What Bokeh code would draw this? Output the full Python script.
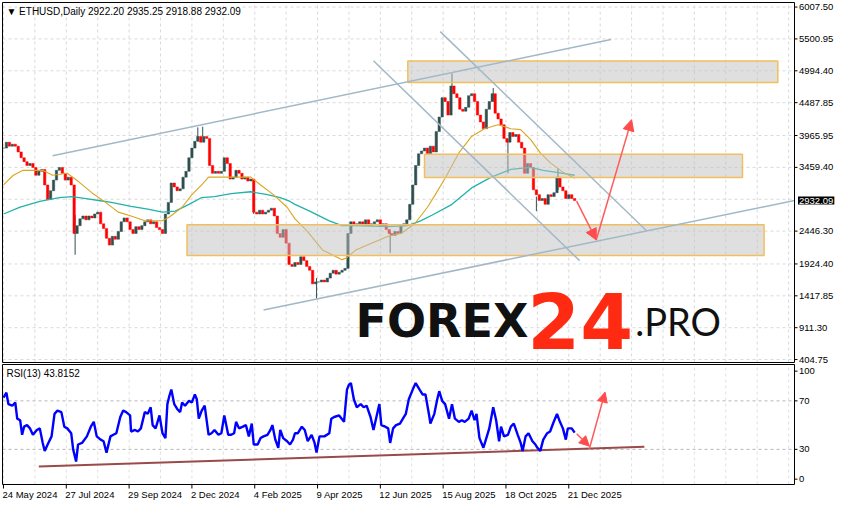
from bokeh.plotting import figure
from bokeh.models import Label, Arrow, NormalHead, Range1d
from bokeh.core.properties import value
from bokeh.embed import file_html
from bokeh.resources import INLINE

# ---------------- data ----------------
# daily closes sampled every 3 days, day 0 = 24 May 2024
closes = [3766, 3859, 3797, 3828, 3797, 3705, 3612, 3550, 3489, 3520,
          3458, 3334, 3396, 3427, 3180, 2949, 3088, 3257, 3412, 3458,
          3365, 3257, 3304, 3180, 2409, 2533, 2641, 2687, 2625, 2687,
          2656, 2718, 2748, 2563, 2486, 2332, 2224, 2363, 2317, 2440,
          2594, 2656, 2594, 2471, 2409, 2517, 2471, 2533, 2594, 2625,
          2563, 2594, 2502, 2471, 2409, 2718, 2903, 3211, 3149, 3088,
          3118, 3304, 3396, 3612, 3766, 3874, 3951, 3859, 3951, 3920,
          3489, 3365, 3396, 3365, 3396, 3612, 3520, 3273, 3304, 3412,
          3365, 3273, 3304, 3242, 3273, 2748, 2718, 2779, 2718, 2748,
          2779, 2810, 2687, 2409, 2347, 2471, 2255, 1916, 1885, 1947,
          1916, 2039, 1977, 1885, 1824, 1608, 1638, 1638, 1669, 1638,
          1700, 1777, 1824, 1762, 1793, 1824, 1854, 2409, 2594, 2533,
          2563, 2594, 2533, 2625, 2533, 2563, 2594, 2625, 2533, 2563,
          2471, 2409, 2378, 2440, 2409, 2533, 2563, 2625, 2872, 3180,
          3489, 3675, 3720, 3766, 3675, 3797, 3705, 4028, 4260, 4568,
          4506, 4290, 4753, 4630, 4568, 4383, 4352, 4414, 4599, 4630,
          4506, 4290, 4182, 4074, 4383, 4506, 4630, 4321, 4229, 4136,
          3920, 3859, 4013, 3951, 3982, 3859, 3766, 3365, 3520, 3458,
          3103, 3026, 2933, 2964, 2872, 3026, 2995, 3057, 3304, 3149,
          3088, 2964, 3026, 2964, 2932]
bar_step = 3

spike_day = [45, 73, 198, 203, 255, 319, 394, 457, 499, 514, 543, 565]
spike_lo = [2949, 2070, 3874, 3951, 2718, 1376, 2101, 4630, 4506, 3365, 2764, 3100]
spike_hi = [3180, 2700, 4095, 4105, 3273, 1700, 2440, 4953, 4722, 3900, 2995, 3442]

ma_fast_day = [0, 10, 20, 40, 50, 65, 77, 90, 104, 117, 130, 144, 162, 169, 182, 192,
               202, 209, 229, 252, 262, 275, 289, 297, 309, 325, 345, 350, 359, 375,
               392, 405, 419, 432, 440, 450, 464, 477, 490, 504, 517, 527, 537, 547,
               557, 570, 582]
ma_fast = [3180, 3334, 3412, 3412, 3334, 3365, 3226, 3057, 2903, 2748, 2687, 2610,
           2610, 2671, 2826, 3026, 3180, 3304, 3304, 3304, 3180, 3026, 2826, 2641,
           2455, 2147, 1993, 2024, 2147, 2255, 2363, 2409, 2563, 2826, 3026, 3288,
           3689, 3951, 4074, 4136, 4074, 4059, 3905, 3689, 3535, 3384, 3288]

ma_slow_day = [0, 17, 37, 57, 70, 84, 97, 110, 130, 147, 162, 175, 189, 202, 215, 232,
               252, 269, 282, 292, 297, 312, 332, 345, 359, 392, 412, 425, 437, 457,
               477, 497, 517, 537, 550, 564, 582]
ma_slow = [2718, 2826, 2918, 2980, 2995, 2964, 2933, 2903, 2841, 2795, 2748, 2764,
           2872, 2980, 2995, 3041, 3072, 3026, 2980, 2918, 2872, 2764, 2610, 2532,
           2532, 2517, 2532, 2610, 2702, 2872, 3133, 3304, 3427, 3458, 3412, 3381, 3334]

rsi_day = [0, 3, 5, 9, 12, 14, 17, 19, 21, 24, 27, 30, 34, 37, 40, 42, 45, 49, 52, 55,
           59, 62, 65, 69, 71, 74, 76, 80, 85, 89, 92, 95, 99, 102, 105, 109, 112, 115,
           119, 122, 125, 129, 130, 134, 137, 140, 144, 147, 150, 152, 155, 159, 162,
           165, 167, 169, 171, 174, 177, 180, 182, 185, 189, 192, 195, 197, 199, 202,
           205, 209, 212, 215, 219, 222, 225, 229, 232, 235, 237, 240, 244, 247, 250,
           253, 255, 259, 262, 265, 269, 272, 274, 277, 280, 282, 285, 289, 292, 295,
           297, 300, 304, 307, 310, 314, 317, 319, 322, 327, 332, 334, 337, 342, 347,
           350, 352, 354, 357, 360, 364, 367, 370, 374, 377, 380, 383, 385, 389, 392,
           394, 397, 400, 404, 407, 410, 413, 417, 420, 424, 427, 430, 434, 435, 439,
           442, 444, 447, 450, 454, 457, 460, 464, 467, 470, 474, 477, 480, 482, 485,
           489, 492, 495, 499, 502, 505, 507, 510, 514, 517, 520, 524, 527, 529, 532,
           535, 539, 542, 544, 547, 550, 554, 557, 560, 564, 567, 570, 573, 575, 579, 582]
rsi_val = [72.7, 76.7, 67.3, 66.0, 68.7, 55.3, 54.0, 42.0, 48.7, 50.0, 47.3, 42.0, 46.0,
           47.3, 35.3, 28.7, 34.0, 40.7, 59.3, 62.0, 60.7, 48.7, 47.3, 43.3, 30.0, 19.9,
           34.0, 35.3, 40.7, 48.7, 52.7, 40.7, 38.0, 36.7, 27.3, 40.7, 42.0, 43.3, 56.7,
           62.0, 60.7, 58.0, 44.7, 46.0, 44.7, 47.3, 60.7, 59.3, 64.7, 50.0, 47.3, 58.0,
           43.3, 39.3, 67.3, 74.0, 79.3, 67.3, 63.3, 60.7, 68.7, 66.0, 70.0, 68.7, 75.3,
           71.3, 55.3, 62.0, 66.0, 42.0, 43.3, 46.0, 42.0, 43.3, 58.0, 42.0, 42.0, 43.3,
           52.7, 47.3, 48.7, 50.0, 40.7, 51.3, 34.0, 34.0, 39.3, 40.7, 42.0, 46.0, 50.0,
           38.0, 31.3, 46.0, 39.3, 36.7, 34.0, 38.0, 43.3, 43.3, 48.7, 46.0, 36.7, 42.0,
           35.3, 27.3, 40.7, 40.7, 43.3, 55.3, 56.7, 58.0, 52.7, 79.3, 83.3, 84.7, 71.3,
           64.7, 67.3, 64.7, 66.0, 56.7, 46.0, 56.7, 67.3, 50.0, 48.7, 47.3, 35.3, 47.3,
           50.0, 51.3, 55.3, 59.3, 71.3, 79.3, 84.7, 79.3, 75.3, 75.3, 56.7, 51.3, 59.3,
           71.3, 78.0, 70.0, 67.3, 55.3, 67.3, 55.3, 52.7, 54.0, 52.7, 55.3, 62.0, 54.0,
           59.3, 39.3, 31.3, 39.3, 47.3, 64.7, 54.0, 36.7, 48.7, 40.7, 42.0, 48.7, 51.3,
           42.0, 35.3, 28.7, 40.7, 43.3, 36.7, 34.0, 31.3, 28.7, 38.0, 43.3, 44.7, 51.3,
           59.3, 52.7, 47.3, 38.0, 47.3, 47.3, 43.8]

price_ticks = [404.75, 911.30, 1417.85, 1924.40, 2446.30, 3459.40, 3965.95,
               4487.85, 4994.40, 5500.95, 6007.50]
price_grid = [404.75, 911.30, 1417.85, 1924.40, 2446.30, 2952.85, 3459.40, 3965.95,
              4487.85, 4994.40, 5500.95, 6007.50]
rsi_tick_pos = [94.5, 70, 30, 5.4]
rsi_tick_lab = ["100", "70", "30", "0"]
rsi_levels = [30, 70]
date_ticks = [0, 64, 128, 192, 256, 320, 384, 448, 512, 576]
date_labels = ["24 May 2024", "27 Jul 2024", "29 Sep 2024", "2 Dec 2024", "4 Feb 2025",
               "9 Apr 2025", "12 Jun 2025", "15 Aug 2025", "18 Oct 2025", "21 Dec 2025"]
grid_days = list(range(0, 806, 32))

# zones (day from, day to, price low, price high)
zone_left = [412, 429, 187]
zone_right = [789, 753, 775]
zone_bottom = [4810, 3299, 2059]
zone_top = [5149, 3669, 2548]

# trend lines (day, price)
tl_x0 = [50, 265, 377, 445]
tl_y0 = [3643, 1194, 5154, 5617]
tl_x1 = [619, 806, 587, 655]
tl_y1 = [5493, 2933, 1977, 2455]

# forecast arrows (day, price)
arr_x0 = [584, 604]
arr_y0 = [2923, 2306]
arr_x1 = [604, 640]
arr_y1 = [2306, 4218]

rsi_arr_x0 = [584, 597]
rsi_arr_y0 = [42.8, 30.5]
rsi_arr_x1 = [597, 613]
rsi_arr_y1 = [32.6, 77.2]
rsi_tl_x = [36, 653]
rsi_tl_y = [15.8, 32.1]

last_price = 2932.09

# panel extents (days / price / rsi)
DAY0, DAY1 = -1, 806
P0, P1 = 358, 6080
R0, R1 = 1, 100

FONT = "Liberation Sans"
AXFS = "9.5px"

# ---------------- one canvas, two panels ----------------
W, H = 839, 505
# main panel: px rows 2..362 ; rsi panel: rows 364..484 ; panel columns 2..794
ppx = (P1 - P0) / 360.0           # price per pixel
rpx = (R1 - R0) / 120.0           # rsi per pixel
dpx = (DAY1 - DAY0) / 792.0       # days per pixel

p = figure(width=W, height=H,
           x_range=Range1d(DAY0 - 2 * dpx, DAY0 + (W - 2) * dpx),
           y_range=Range1d(P0 - (H - 362) * ppx, P1 + 2 * ppx),
           toolbar_location=None, output_backend="svg",
           min_border=0, x_axis_location=None, y_axis_location=None,
           background_fill_color="white", border_fill_color="white",
           outline_line_color=None)
p.extra_y_ranges = {"rsi": Range1d(R0 - (H - 484) * rpx, R1 + 364 * rpx)}
p.grid.visible = False

GRID = "#d9d9d9"
# main grid
p.segment(x0=[DAY0] * len(price_grid), y0=price_grid, x1=[DAY1] * len(price_grid), y1=price_grid,
          line_color=GRID, line_dash="3 3", line_width=1)
p.segment(x0=grid_days, y0=[P0] * len(grid_days), x1=grid_days, y1=[P1] * len(grid_days),
          line_color=GRID, line_dash="3 3", line_width=1)
# rsi grid
p.segment(x0=grid_days, y0=[R0] * len(grid_days), x1=grid_days, y1=[R1] * len(grid_days),
          line_color="#e0e0e0", line_dash="3 3", line_width=1, y_range_name="rsi")
p.segment(x0=[DAY0] * 2, y0=rsi_levels, x1=[DAY1] * 2, y1=rsi_levels,
          line_color="#b8b8b8", line_dash="3 3", line_width=1, y_range_name="rsi")

# candles
days = [bar_step * i for i in range(len(closes))]
opens = [closes[0]] + closes[:-1]
tops = [max(o, c) for o, c in zip(opens, closes)]
bots = [min(o, c) for o, c in zip(opens, closes)]
cols = ["#2F4F4F" if c >= o else "#FF0000" for o, c in zip(opens, closes)]
p.segment(x0=spike_day, y0=spike_lo, x1=spike_day, y1=spike_hi, line_color="#2F4F4F", line_width=1)
p.vbar(x=days, width=2.4, top=tops, bottom=bots, fill_color=cols, line_color=cols, line_width=0.5)

# moving averages
p.line(ma_slow_day, ma_slow, line_color="#20B2AA", line_width=1.3)
p.line(ma_fast_day, ma_fast, line_color="#DAA520", line_width=1.1)

# zones
p.quad(left=zone_left, right=zone_right, bottom=zone_bottom, top=zone_top,
       fill_color="#c0c0c0", fill_alpha=0.5, line_color="#F2BE5E", line_width=1.5)

# trend lines
p.segment(x0=tl_x0, y0=tl_y0, x1=tl_x1, y1=tl_y1, line_color="#A3B8C6", line_width=1.5)

# arrows
for xs, ys, xe, ye in zip(arr_x0, arr_y0, arr_x1, arr_y1):
    p.add_layout(Arrow(end=NormalHead(size=11, fill_color="#FF4B4B", line_color="#FF4B4B"),
                       x_start=xs, y_start=ys, x_end=xe, y_end=ye,
                       line_color="#FF5A5A", line_width=1.5))

# watermark
p.add_layout(Label(x=358.7, y=1022, text="FOREX", text_font="DejaVu Sans",
                   text_font_style="bold", text_font_size="46px", text_color="#111111",
                   text_baseline="alphabetic", text_align="left"))
p.add_layout(Label(x=533.7, y=1022, text="24", text_font="DejaVu Sans",
                   text_font_style="bold", text_font_size="76px", text_color="#FE2B12",
                   text_baseline="alphabetic", text_align="left"))
p.add_layout(Label(x=643.7, y=1022, text=".PRO", text_font="Lato",
                   text_font_size="38px", text_color="#111111",
                   text_baseline="alphabetic", text_align="left"))

# RSI panel content
p.line(rsi_tl_x, rsi_tl_y, line_color="#9A4A4A", line_width=2, y_range_name="rsi")
p.line(rsi_day, rsi_val, line_color="#0000FF", line_width=2.4, y_range_name="rsi")
for xs, ys, xe, ye in zip(rsi_arr_x0, rsi_arr_y0, rsi_arr_x1, rsi_arr_y1):
    p.add_layout(Arrow(end=NormalHead(size=10, fill_color="#FF4B4B", line_color="#FF4B4B"),
                       x_start=xs, y_start=ys, x_end=xe, y_end=ye, y_range_name="rsi",
                       line_color="#FF5A5A", line_width=1.5))

# panel frames
p.quad(left=[DAY0], right=[DAY1], bottom=[P0], top=[P1], fill_color=None,
       line_color="black", line_width=1)
p.quad(left=[DAY0], right=[DAY1], bottom=[R0], top=[R1], fill_color=None,
       line_color="black", line_width=1, y_range_name="rsi")

# price axis (right)
p.segment(x0=[DAY1] * len(price_ticks), y0=price_ticks,
          x1=[DAY1 + 3 * dpx] * len(price_ticks), y1=price_ticks, line_color="black")
p.text(x=[DAY1 + 4.5 * dpx] * len(price_ticks), y=price_ticks,
       text=["%.2f" % v for v in price_ticks], text_font=value(FONT), text_font_size=AXFS,
       text_color="black", text_align="left", text_baseline="middle")
p.add_layout(Label(x=DAY1 + 3.5 * dpx, y=last_price, text="%.2f" % last_price, text_font=FONT,
                   text_font_size=AXFS, text_color="white", background_fill_color="black",
                   text_baseline="middle", text_align="left", padding=1))

# rsi axis (right)
p.segment(x0=[DAY1] * 4, y0=rsi_tick_pos, x1=[DAY1 + 3 * dpx] * 4, y1=rsi_tick_pos,
          line_color="black", y_range_name="rsi")
p.text(x=[DAY1 + 4.5 * dpx] * 4, y=rsi_tick_pos, text=rsi_tick_lab, text_font=value(FONT),
       text_font_size=AXFS, text_color="black", text_align="left", text_baseline="middle",
       y_range_name="rsi")

# date axis (below rsi panel)
p.segment(x0=date_ticks, y0=[R0] * len(date_ticks), x1=date_ticks,
          y1=[R0 - 4 * rpx] * len(date_ticks), line_color="black", y_range_name="rsi")
p.text(x=[d - 1 for d in date_ticks], y=[R0 - 9.5 * rpx] * len(date_ticks), text=date_labels,
       text_font=value(FONT), text_font_size=AXFS, text_color="black",
       text_align="left", text_baseline="middle", y_range_name="rsi")

# panel captions
p.add_layout(Label(x=3, y=P1 - 8.7 * ppx,
                   text="\u25BC ETHUSD,Daily  2922.20 2935.25 2918.88 2932.09",
                   text_font=FONT, text_font_size="10px", text_color="black",
                   text_baseline="middle", text_align="left"))
p.add_layout(Label(x=3, y=R1 - 9 * rpx, y_range_name="rsi", text="RSI(13) 43.8152",
                   text_font=FONT, text_font_size="10px", text_color="black",
                   text_baseline="middle", text_align="left"))

open("out.html", "w").write(file_html(p, INLINE))
